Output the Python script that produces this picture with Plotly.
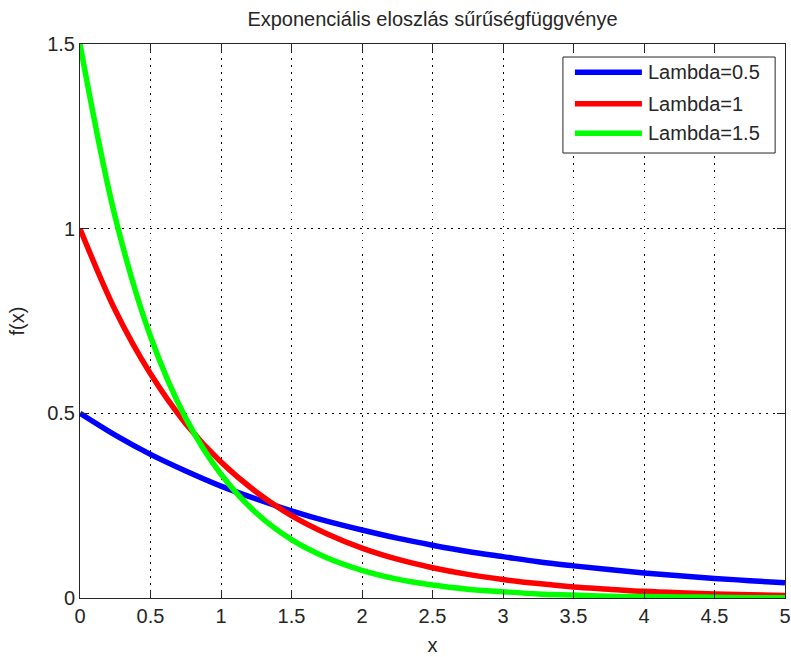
import plotly.graph_objects as go

x_vals = [0, 0.25, 0.5, 0.75, 1, 1.25, 1.5, 1.75, 2, 2.25, 2.5, 2.75, 3, 3.25, 3.5, 3.75, 4, 4.25, 4.5, 4.75, 5]
lambda_05 = [0.500, 0.441, 0.389, 0.344, 0.303, 0.268, 0.236, 0.208, 0.184, 0.162, 0.143, 0.126, 0.112, 0.098, 0.087, 0.077, 0.068, 0.060, 0.053, 0.047, 0.041]
lambda_1 = [1.000, 0.779, 0.607, 0.472, 0.368, 0.287, 0.223, 0.174, 0.135, 0.105, 0.082, 0.064, 0.050, 0.039, 0.030, 0.024, 0.018, 0.014, 0.011, 0.009, 0.007]
lambda_15 = [1.500, 1.031, 0.708, 0.487, 0.335, 0.230, 0.158, 0.109, 0.075, 0.051, 0.035, 0.024, 0.017, 0.011, 0.008, 0.005, 0.004, 0.003, 0.002, 0.001, 0.001]
series_names = ["Lambda=0.5", "Lambda=1", "Lambda=1.5"]
series_colors = ["#0000ff", "#ff0000", "#00ff00"]
x_ticks = [0, 0.5, 1, 1.5, 2, 2.5, 3, 3.5, 4, 4.5, 5]
x_ticklabels = ["0", "0.5", "1", "1.5", "2", "2.5", "3", "3.5", "4", "4.5", "5"]
y_ticks = [0, 0.5, 1, 1.5]
y_ticklabels = ["0", "0.5", "1", "1.5"]

FONT = "Liberation Sans, Arial, sans-serif"
INK = "#262626"

fig = go.Figure()
for name, ys, col in zip(series_names, [lambda_05, lambda_1, lambda_15], series_colors):
    fig.add_trace(go.Scatter(x=x_vals, y=ys, mode="lines", name=name, showlegend=False,
                             line=dict(color=col, width=5.5, shape="spline")))

axis_common = dict(
    showline=True, linecolor=INK, linewidth=1, mirror="ticks",
    ticks="inside", ticklen=8, tickcolor=INK,
    showgrid=True, gridcolor="#000000", griddash="1.5px,5.5px", gridwidth=1,
    zeroline=False, automargin=False,
    tickfont=dict(family=FONT, size=20, color=INK),
)

fig.update_xaxes(range=[0, 5], tickvals=x_ticks, ticktext=x_ticklabels,
                 title=dict(text="x", font=dict(family=FONT, size=20, color=INK), standoff=11),
                 **axis_common)
fig.update_yaxes(range=[0, 1.5], tickvals=y_ticks, ticktext=y_ticklabels,
                 title=dict(text="f(x)", font=dict(family=FONT, size=20, color=INK), standoff=17),
                 **axis_common)

# Custom legend (layout elements in axis-domain coordinates)
legend_rows = [0.949, 0.892, 0.839]
shapes = [dict(type="rect", xref="x domain", yref="y domain", x0=0.685, x1=0.986, y0=0.8032, y1=0.9765,
               line=dict(color=INK, width=1), fillcolor="white", layer="above")]
annotations = []
for name, col, yr in zip(series_names, series_colors, legend_rows):
    shapes.append(dict(type="line", xref="x domain", yref="y domain", x0=0.702, x1=0.797, y0=yr, y1=yr,
                       line=dict(color=col, width=5.5), layer="above"))
    annotations.append(dict(xref="x domain", yref="y domain", x=0.803, y=yr, text=name, showarrow=False,
                            xanchor="left", yanchor="middle",
                            font=dict(family=FONT, size=20, color=INK)))

W, H = 791, 657
fig.update_layout(
    width=W, height=H,
    margin=dict(l=80, r=6, t=44, b=59),
    paper_bgcolor="white", plot_bgcolor="white",
    title=dict(text="Exponenciális eloszlás sűrűségfüggvénye", x=(80 + W - 6) / 2 / W, xanchor="center",
               y=1 - 19 / H, yanchor="middle", font=dict(family=FONT, size=20, color=INK)),
    shapes=shapes, annotations=annotations,
    showlegend=False,
)

fig.write_html("out.html", config={"displayModeBar": False},
               post_script="document.body.style.margin='0';document.body.style.overflow='hidden';")
